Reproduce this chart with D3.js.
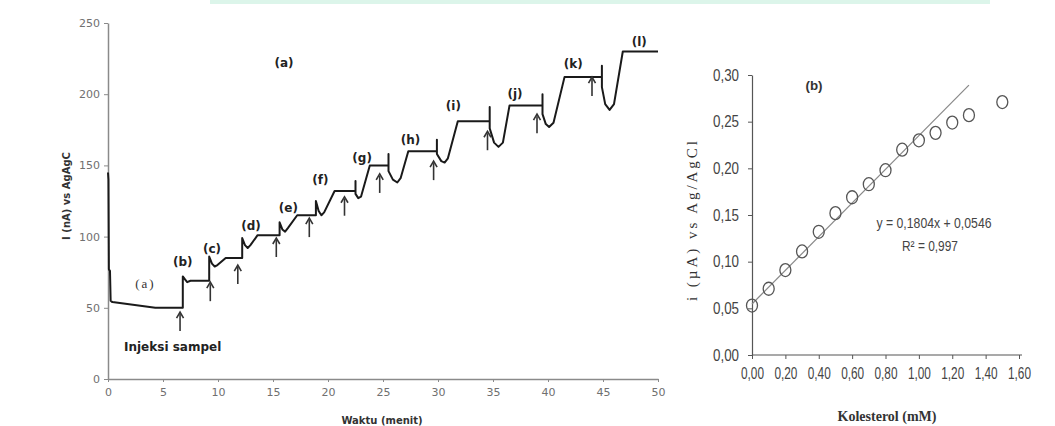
<!DOCTYPE html>
<html>
<head>
<meta charset="utf-8">
<script src="https://cdn.jsdelivr.net/npm/d3@7"></script>
<style>
  body { margin: 0; background: #fff; }
  svg { display: block; }
  .narrow { font-family: 'Liberation Sans', 'DejaVu Sans', sans-serif; }
</style>
</head>
<body>
<div id="chart"></div>
<script>
// (a) amperometric response, time in minutes vs current in nA
var traceT = [0, 0.04, 0.08, 0.18, 0.24, 0.4, 4.3, 6.8, 6.8, 7.0, 7.2, 7.5, 9.2,
  9.2, 9.45, 9.7, 9.95, 10.7, 12.2,
  12.2, 12.45, 12.7, 12.95, 13.6, 15.6,
  15.6, 15.85, 16.1, 16.35, 17.2, 18.9,
  18.9, 19.15, 19.4, 19.65, 20.6, 22.5,
  22.5, 22.5, 22.75, 23.0, 23.8, 25.5,
  25.5, 25.5, 25.9, 26.3, 26.6, 27.3, 29.9,
  29.9, 29.9, 30.3, 30.6, 30.9, 31.8, 34.7,
  34.7, 34.7, 35.1, 35.5, 35.9, 36.5, 39.5,
  39.5, 39.5, 39.8, 40.1, 40.5, 41.5, 44.9,
  44.9, 44.9, 45.2, 45.6, 46.0, 46.8, 50];
var traceI = [145, 140, 77, 76, 55, 54, 50, 50, 72, 70, 68, 69, 69,
  86, 81, 79, 80, 85, 85,
  99, 94, 92, 94, 101, 101,
  110, 105, 103.5, 106, 115, 115,
  125, 118, 115, 117, 132, 132,
  139, 130, 127, 128, 150, 150,
  158, 146, 140, 138, 141, 160, 160,
  168, 158, 153, 152, 155, 181, 181,
  191, 176, 166, 163, 166, 192, 192,
  200, 186, 179, 177, 180, 212, 212,
  220, 205, 193, 189, 193, 230, 230];

// injection arrows (tip position)
var arrowT = [6.55, 9.3, 11.8, 15.3, 18.3, 21.5, 24.7, 29.6, 34.5, 39.0, 44.0];
var arrowI = [47, 68, 80, 99, 113, 128, 144, 153, 174, 186, 212];

var stepNames = ["(b)", "(c)", "(d)", "(e)", "(f)", "(g)", "(h)", "(i)", "(j)", "(k)", "(l)"];
var stepT = [6.8, 9.45, 13.0, 16.4, 19.3, 23.1, 27.5, 31.4, 37.0, 42.3, 48.3];
var stepI = [82, 91.5, 107.7, 120.4, 140, 155.6, 168, 192, 200, 221, 237];

var aXTicks = [0, 5, 10, 15, 20, 25, 30, 35, 40, 45, 50];
var aYTicks = [0, 50, 100, 150, 200, 250];

// (b) calibration curve
var kolesterol = [0, 0.1, 0.2, 0.3, 0.4, 0.5, 0.6, 0.7, 0.8, 0.9, 1.0, 1.1, 1.2, 1.3, 1.5];
var arus = [0.053, 0.071, 0.091, 0.111, 0.132, 0.152, 0.169, 0.183, 0.198, 0.220, 0.230, 0.238, 0.249, 0.257, 0.271];
var slope = 0.1804, intercept = 0.0546, fitMax = 1.3;
var bXTicks = [0, 0.2, 0.4, 0.6, 0.8, 1.0, 1.2, 1.4, 1.6];
var bYTicks = [0, 0.05, 0.10, 0.15, 0.20, 0.25, 0.30];

var comma = function (d) { return d3.format(".2f")(d).replace(".", ","); };

var svg = d3.select("#chart").append("svg")
  .attr("width", 1055)
  .attr("height", 426);

// faint patches at the top of the scan
svg.append("rect").attr("x", 210).attr("y", 0).attr("width", 780).attr("height", 4)
  .attr("fill", "#dcf5ea");

// ---------- chart (a) ----------
var xA = d3.scaleLinear().domain([0, 50]).range([108, 658]);
var yA = d3.scaleLinear().domain([0, 250]).range([379, 23]);

var axA = svg.append("g").attr("transform", "translate(0,379)")
  .call(d3.axisBottom(xA).tickValues(aXTicks).tickSize(3).tickSizeOuter(0).tickPadding(6));
var ayA = svg.append("g").attr("transform", "translate(108,0)")
  .call(d3.axisLeft(yA).tickValues(aYTicks).tickSize(4).tickSizeOuter(0).tickPadding(4));
[axA, ayA].forEach(function (g) {
  g.select(".domain").attr("stroke", "#8a8a8a").attr("stroke-width", 1.5);
  g.selectAll(".tick line").attr("stroke", "#8a8a8a");
  g.selectAll(".tick text").attr("fill", "#707070")
    .style("font", "11px 'DejaVu Sans'");
});

var line = d3.line()
  .x(function (d, i) { return xA(traceT[i]); })
  .y(function (d) { return yA(d); });

svg.append("path")
  .datum(traceI)
  .attr("fill", "none")
  .attr("stroke", "#1a1a1a")
  .attr("stroke-width", 2)
  .attr("stroke-linejoin", "round")
  .attr("d", line);

// arrows
var arrows = svg.selectAll(".arrow")
  .data(arrowT)
  .enter().append("g")
  .attr("class", "arrow")
  .attr("transform", function (d, i) { return "translate(" + xA(d) + "," + yA(arrowI[i]) + ")"; });
arrows.append("line")
  .attr("x1", 0).attr("y1", 2).attr("x2", 0).attr("y2", 19)
  .attr("stroke", "#333").attr("stroke-width", 1.6);
arrows.append("path")
  .attr("d", "M-3.5,6 L0,0 L3.5,6")
  .attr("fill", "none").attr("stroke", "#333").attr("stroke-width", 1.6);

svg.selectAll(".step")
  .data(stepNames)
  .enter().append("text")
  .attr("class", "step")
  .attr("x", function (d, i) { return xA(stepT[i]); })
  .attr("y", function (d, i) { return yA(stepI[i]); })
  .attr("dy", "0.35em")
  .attr("text-anchor", "middle")
  .style("font", "bold 12px 'DejaVu Sans'")
  .attr("fill", "#222")
  .text(function (d) { return d; });

svg.append("text")
  .attr("x", xA(3.4)).attr("y", yA(67)).attr("dy", "0.35em")
  .attr("text-anchor", "middle")
  .style("font", "13px 'Liberation Serif'")
  .style("letter-spacing", "2px")
  .attr("fill", "#333")
  .text("(a)");

svg.append("text")
  .attr("x", 284).attr("y", 67)
  .attr("text-anchor", "middle")
  .style("font", "bold 12px 'DejaVu Sans'")
  .attr("fill", "#222")
  .text("(a)");

svg.append("text")
  .attr("x", 124).attr("y", 351)
  .style("font", "bold 12px 'DejaVu Sans'")
  .attr("fill", "#222")
  .text("Injeksi sampel");

svg.append("text")
  .attr("transform", "translate(70,196) rotate(-90)")
  .attr("text-anchor", "middle")
  .style("font", "bold 10px 'DejaVu Sans'")
  .attr("fill", "#333")
  .text("I (nA) vs AgAgC");

svg.append("text")
  .attr("x", 382).attr("y", 424)
  .attr("text-anchor", "middle")
  .style("font", "bold 10px 'DejaVu Sans'")
  .attr("fill", "#333")
  .text("Waktu (menit)");

// ---------- chart (b) ----------
var xB = d3.scaleLinear().domain([0, 1.6]).range([752, 1019]);
var yB = d3.scaleLinear().domain([0, 0.30]).range([355, 75]);

var axB = svg.append("g").attr("transform", "translate(0,355)")
  .call(d3.axisBottom(xB).tickValues(bXTicks).tickFormat(comma).tickSize(4).tickSizeOuter(0).tickPadding(9));
var ayB = svg.append("g").attr("transform", "translate(752,0)")
  .call(d3.axisLeft(yB).tickValues(bYTicks).tickFormat(comma).tickSize(4).tickSizeOuter(0).tickPadding(9));
axB.select(".domain").attr("d", "M752,0H1022");
[axB, ayB].forEach(function (g) {
  g.select(".domain").attr("stroke", "#555").attr("stroke-width", 1.2);
  g.selectAll(".tick line").attr("stroke", "#555");
  g.selectAll(".tick text").attr("fill", "#444")
    .attr("class", "narrow")
    .style("font-size", "16px")
    .attr("lengthAdjust", "spacingAndGlyphs");
});
// narrow glyphs like the original
axB.selectAll(".tick text").attr("textLength", 23);
ayB.selectAll(".tick text").attr("textLength", 26);

svg.append("line")
  .attr("x1", xB(0)).attr("y1", yB(intercept))
  .attr("x2", xB(fitMax)).attr("y2", yB(slope * fitMax + intercept))
  .attr("stroke", "#888").attr("stroke-width", 1.2);

svg.selectAll(".pt")
  .data(arus)
  .enter().append("ellipse")
  .attr("class", "pt")
  .attr("cx", function (d, i) { return xB(kolesterol[i]); })
  .attr("cy", function (d) { return yB(d); })
  .attr("rx", 5.5).attr("ry", 6.5)
  .attr("fill", "none")
  .attr("stroke", "#555")
  .attr("stroke-width", 1.3);

svg.append("text")
  .attr("x", 814).attr("y", 90)
  .attr("text-anchor", "middle")
  .attr("class", "narrow")
  .style("font-size", "12px").style("font-weight", "bold")
  .attr("textLength", 17).attr("lengthAdjust", "spacingAndGlyphs")
  .attr("fill", "#333")
  .text("(b)");

svg.append("text")
  .attr("x", 934).attr("y", 228)
  .attr("text-anchor", "middle")
  .attr("class", "narrow")
  .style("font-size", "15px")
  .attr("textLength", 115).attr("lengthAdjust", "spacingAndGlyphs")
  .attr("fill", "#444")
  .text("y = 0,1804x + 0,0546");

svg.append("text")
  .attr("x", 930).attr("y", 251)
  .attr("text-anchor", "middle")
  .attr("class", "narrow")
  .style("font-size", "15px")
  .attr("textLength", 56).attr("lengthAdjust", "spacingAndGlyphs")
  .attr("fill", "#444")
  .text("R² = 0,997");

svg.append("text")
  .attr("transform", "translate(697,221) rotate(-90)")
  .attr("text-anchor", "middle")
  .attr("textLength", 160)
  .attr("lengthAdjust", "spacing")
  .style("font", "15px 'Liberation Serif'")
  .attr("fill", "#333")
  .text("i (µA) vs Ag/AgCl");

svg.append("text")
  .attr("x", 887).attr("y", 421)
  .attr("text-anchor", "middle")
  .style("font", "bold 14px 'Liberation Serif'")
  .attr("fill", "#333")
  .text("Kolesterol (mM)");
</script>
</body>
</html>
